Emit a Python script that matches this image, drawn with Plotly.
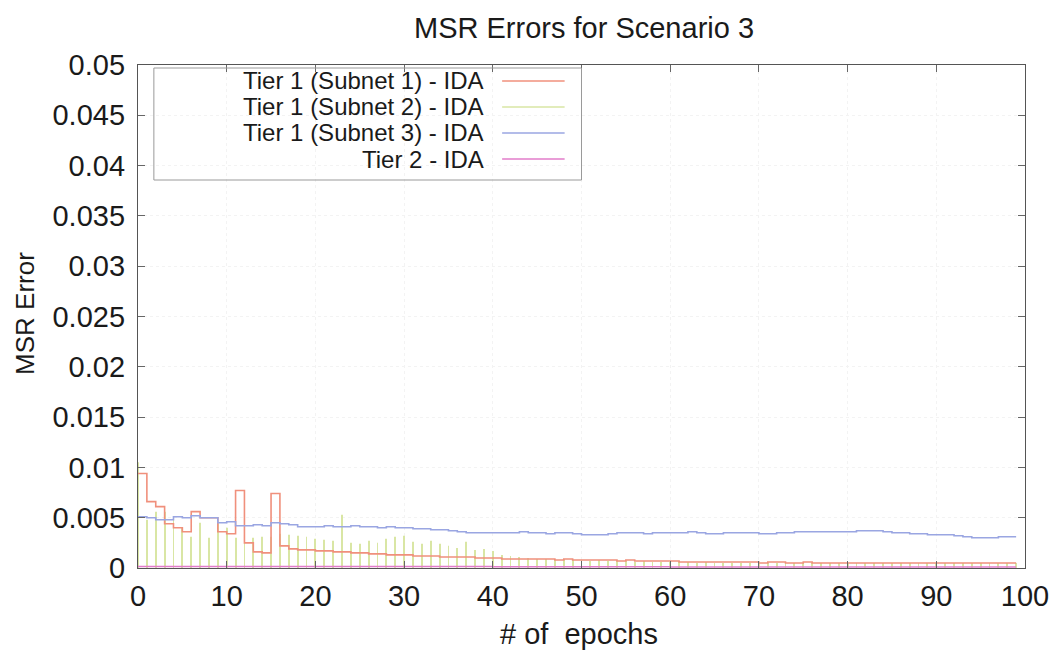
import plotly.graph_objects as go

# ---------------- data ----------------
epochs = list(range(0, 100))

tier1_subnet1 = [0.0094, 0.0066, 0.0061, 0.0044, 0.0040, 0.0036, 0.0056, 0.0050, 0.0050, 0.0036,
                 0.0034, 0.0077, 0.0025, 0.0016, 0.0015, 0.0074, 0.0022, 0.0019, 0.0018, 0.0018,
                 0.0017, 0.0017, 0.0016, 0.0016, 0.0015, 0.0015, 0.0014, 0.0014, 0.0013, 0.0013,
                 0.0013, 0.0012, 0.0012, 0.0012, 0.0011, 0.0011, 0.0011, 0.0011, 0.0010, 0.0010,
                 0.0010, 0.0009, 0.0009, 0.0009, 0.0009, 0.0009, 0.0009, 0.0008, 0.0009, 0.0008,
                 0.0008, 0.0008, 0.0008, 0.0008, 0.0007, 0.0008, 0.0007, 0.0007, 0.0007, 0.0007,
                 0.0007, 0.0006, 0.0006, 0.0006, 0.0006, 0.0006, 0.0006, 0.0006, 0.0006, 0.0006,
                 0.0005, 0.0006, 0.0006, 0.0005, 0.0005, 0.0006, 0.0005, 0.0005, 0.0005, 0.0005,
                 0.0005, 0.0005, 0.0005, 0.0005, 0.0005, 0.0005, 0.0005, 0.0005, 0.0005, 0.0005,
                 0.0005, 0.0005, 0.0005, 0.0005, 0.0005, 0.0005, 0.0005, 0.0005, 0.0005, 0.0005]

tier1_subnet2 = [0.0105, 0.0048, 0.0056, 0.0056, 0.0051, 0.0040, 0.0031, 0.0045, 0.0030, 0.0045,
                 0.0040, 0.0030, 0.0029, 0.0030, 0.0031, 0.0031, 0.0034, 0.0033, 0.0032, 0.0031,
                 0.0029, 0.0028, 0.0027, 0.0053, 0.0025, 0.0024, 0.0027, 0.0025, 0.0029, 0.0031,
                 0.0032, 0.0026, 0.0024, 0.0027, 0.0024, 0.0022, 0.0020, 0.0026, 0.0018, 0.0019,
                 0.0017, 0.0013, 0.0012, 0.0011, 0.0010, 0.0009, 0.0009, 0.0008, 0.0009, 0.0008,
                 0.0008, 0.0007, 0.0008, 0.0007, 0.0007, 0.0007, 0.0006, 0.0007, 0.0006, 0.0006,
                 0.0006, 0.0006, 0.0006, 0.0005, 0.0006, 0.0005, 0.0005, 0.0005, 0.0005, 0.0005,
                 0.0005, 0.0005, 0.0005, 0.0005, 0.0005, 0.0005, 0.0005, 0.0005, 0.0005, 0.0005,
                 0.0005, 0.0005, 0.0005, 0.0005, 0.0005, 0.0005, 0.0005, 0.0005, 0.0005, 0.0005,
                 0.0005, 0.0005, 0.0005, 0.0005, 0.0005, 0.0005, 0.0005, 0.0005, 0.0005, 0.0005]

tier1_subnet3 = [0.0051, 0.0050, 0.0048, 0.0048, 0.0051, 0.0050, 0.0052, 0.0050, 0.0050, 0.0045,
                 0.0046, 0.0042, 0.0042, 0.0043, 0.0042, 0.0045, 0.0044, 0.0043, 0.0041, 0.0041,
                 0.0041, 0.0042, 0.0041, 0.0041, 0.0042, 0.0041, 0.0041, 0.0040, 0.0041, 0.0040,
                 0.0040, 0.0039, 0.0039, 0.0038, 0.0038, 0.0037, 0.0036, 0.0035, 0.0035, 0.0035,
                 0.0035, 0.0035, 0.0035, 0.0036, 0.0035, 0.0035, 0.0034, 0.0035, 0.0035, 0.0034,
                 0.0033, 0.0033, 0.0033, 0.0034, 0.0035, 0.0035, 0.0035, 0.0034, 0.0035, 0.0035,
                 0.0035, 0.0035, 0.0036, 0.0035, 0.0034, 0.0034, 0.0035, 0.0035, 0.0035, 0.0035,
                 0.0034, 0.0034, 0.0035, 0.0035, 0.0036, 0.0036, 0.0036, 0.0036, 0.0036, 0.0036,
                 0.0036, 0.0037, 0.0037, 0.0037, 0.0036, 0.0035, 0.0035, 0.0034, 0.0034, 0.0033,
                 0.0033, 0.0033, 0.0032, 0.0031, 0.0030, 0.0030, 0.0030, 0.0031, 0.0031, 0.0031]

tier2 = [0.00015, 0.00015, 0.00015, 0.00015, 0.00015, 0.00015, 0.00015, 0.00015, 0.00015, 0.00015,
         0.00015, 0.00015, 0.00015, 0.00015, 0.00015, 0.00015, 0.00015, 0.00015, 0.00015, 0.00015,
         0.00015, 0.00015, 0.00015, 0.00015, 0.00015, 0.00015, 0.00015, 0.00015, 0.00015, 0.00015,
         0.00015, 0.00015, 0.00015, 0.00015, 0.00015, 0.00015, 0.00015, 0.00015, 0.00015, 0.00015,
         0.00012, 0.00012, 0.00012, 0.00012, 0.00012, 0.00012, 0.00012, 0.00012, 0.00012, 0.00012,
         0.00012, 0.00012, 0.00012, 0.00012, 0.00012, 0.00012, 0.00012, 0.00012, 0.00012, 0.00012,
         0.00010, 0.00010, 0.00010, 0.00010, 0.00010, 0.00010, 0.00010, 0.00010, 0.00010, 0.00010,
         0.00010, 0.00010, 0.00010, 0.00010, 0.00010, 0.00010, 0.00010, 0.00010, 0.00010, 0.00010,
         0.00010, 0.00010, 0.00010, 0.00010, 0.00010, 0.00010, 0.00010, 0.00010, 0.00010, 0.00010,
         0.00010, 0.00010, 0.00010, 0.00010, 0.00010, 0.00010, 0.00010, 0.00010, 0.00010, 0.00010]

series_names = ["Tier 1 (Subnet 1) - IDA", "Tier 1 (Subnet 2) - IDA",
                "Tier 1 (Subnet 3) - IDA", "Tier 2 - IDA"]

y_tick_vals = [0, 0.005, 0.01, 0.015, 0.02, 0.025, 0.03, 0.035, 0.04, 0.045, 0.05]
y_tick_text = ["0", "0.005", "0.01", "0.015", "0.02", "0.025", "0.03", "0.035", "0.04", "0.045", "0.05"]
x_tick_vals = [0, 10, 20, 30, 40, 50, 60, 70, 80, 90, 100]

# ---------------- styles ----------------
RED = "#f0907c"
GREEN = "#d9e6a4"
BLUE = "#9aa6e2"
MAGENTA = "#e27cca"
colors = [RED, GREEN, BLUE, MAGENTA]
FONT = "Liberation Sans, Arial, sans-serif"

W, H = 1061, 651
L, R, T, B = 138, 1032, 65, 568


def px(xp):
    return (xp - L) / (R - L)


def py(yp):
    return (B - yp) / (B - T)


fig = go.Figure()

# Subnet 2 drawn as thin impulses
fig.add_trace(go.Bar(x=epochs, y=tier1_subnet2, width=0.1, name=series_names[1],
                     marker=dict(color=GREEN, line=dict(width=0)), showlegend=False))

fig.add_trace(go.Scatter(x=epochs, y=tier1_subnet1, mode="lines", name=series_names[0],
                         line=dict(color=RED, width=1.6, shape="hv"), showlegend=False))
fig.add_trace(go.Scatter(x=epochs, y=tier1_subnet3, mode="lines", name=series_names[2],
                         line=dict(color=BLUE, width=1.6, shape="hv"), showlegend=False))
fig.add_trace(go.Scatter(x=epochs, y=tier2, mode="lines", name=series_names[3],
                         line=dict(color=MAGENTA, width=1.4, shape="hv"), showlegend=False))

# gnuplot-style key (text on the left, line sample on the right)
shapes = [dict(type="rect", xref="paper", yref="paper",
               x0=px(154), x1=px(585), y0=py(180), y1=py(68),
               line=dict(color="#9a9a9a", width=1), fillcolor="rgba(0,0,0,0)")]
annotations = []
row_y = [81, 107, 133, 159]
for name, col, yy in zip(series_names, colors, row_y):
    annotations.append(dict(x=px(488), y=py(yy), xref="paper", yref="paper",
                            text=name, showarrow=False, xanchor="right", yanchor="middle",
                            borderpad=0,
                            font=dict(family=FONT, size=24, color="#1a1a1a")))
    shapes.append(dict(type="line", xref="paper", yref="paper",
                       x0=px(505), x1=px(568), y0=py(yy), y1=py(yy),
                       line=dict(color=col, width=1.6)))

annotations.append(dict(x=px(588), y=py(28), xref="paper", yref="paper",
                        text="MSR Errors for Scenario 3", showarrow=False,
                        xanchor="center", yanchor="middle",
                        font=dict(family=FONT, size=29, color="#1a1a1a")))
annotations.append(dict(x=px(582), y=py(634), xref="paper", yref="paper",
                        text="# of\u00a0 epochs", showarrow=False,
                        xanchor="center", yanchor="middle",
                        font=dict(family=FONT, size=29, color="#1a1a1a")))
annotations.append(dict(x=px(24), y=py(313), xref="paper", yref="paper",
                        text="MSR Error", showarrow=False, textangle=-90,
                        xanchor="center", yanchor="middle",
                        font=dict(family="Liberation Sans Narrow, Liberation Sans, Arial, sans-serif",
                                  size=26, color="#1a1a1a")))

fig.update_layout(
    width=W, height=H,
    margin=dict(l=L, r=W - R, t=T, b=H - B, pad=0),
    paper_bgcolor="white", plot_bgcolor="white",
    showlegend=False,
    barmode="overlay",
    shapes=shapes,
    annotations=annotations,
    font=dict(family=FONT, color="#1a1a1a"),
)

fig.update_xaxes(range=[0, 100], tickvals=x_tick_vals, ticks="inside", ticklen=7,
                 tickcolor="#666", showline=True, linecolor="#555", linewidth=1.3,
                 mirror="allticks", showgrid=True, gridcolor="#f3f3f3", griddash="dot",
                 zeroline=False, tickfont=dict(family=FONT, size=29, color="#1a1a1a"),
                 ticklabelstandoff=2, ticklabeloverflow="allow")
fig.update_yaxes(range=[0, 0.05], tickvals=y_tick_vals, ticktext=y_tick_text,
                 ticks="inside", ticklen=7, tickcolor="#666", showline=True,
                 linecolor="#555", linewidth=1.3, mirror="allticks", showgrid=True,
                 gridcolor="#f3f3f3", griddash="dot", zeroline=False,
                 tickfont=dict(family=FONT, size=29, color="#1a1a1a"),
                 ticklabelstandoff=6)

fig.write_html("out.html")
